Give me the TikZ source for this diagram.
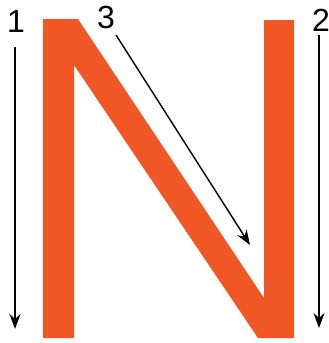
\documentclass[tikz,border=0pt]{standalone}
\usepackage{fontspec}
\setmainfont{Liberation Sans}
\usetikzlibrary{arrows.meta}
\definecolor{norange}{RGB}{241,87,37}
\begin{document}
\begin{tikzpicture}[x=1pt,y=-1pt,
  lbl/.style={font=\fontsize{32}{32}\selectfont, inner sep=0pt, text=black},
  arr/.style={-{Stealth[length=15pt,width=11pt]}, line width=1.4pt, black}]
\useasboundingbox (0,0) rectangle (329,343);
\fill[norange] (43,19) -- (78,19) -- (264,298) -- (264,20) -- (294,20) -- (294,338) -- (258,338) -- (74,65) -- (74,338) -- (43,338) -- cycle;
\node[lbl] (l1) at (16,21) {1};
\node[lbl] (l2) at (321,20) {2};
\node[lbl] (l3) at (106,17) {3};
\coordinate (a1s) at (15,47);
\coordinate (a1e) at (15,329);
\coordinate (a2s) at (319,35);
\coordinate (a2e) at (319,328);
\coordinate (a3s) at (116,35);
\coordinate (a3e) at (250,245);
\draw[arr] (a1s) -- (a1e);
\draw[arr] (a2s) -- (a2e);
\draw[arr] (a3s) -- (a3e);
\end{tikzpicture}
\end{document}
